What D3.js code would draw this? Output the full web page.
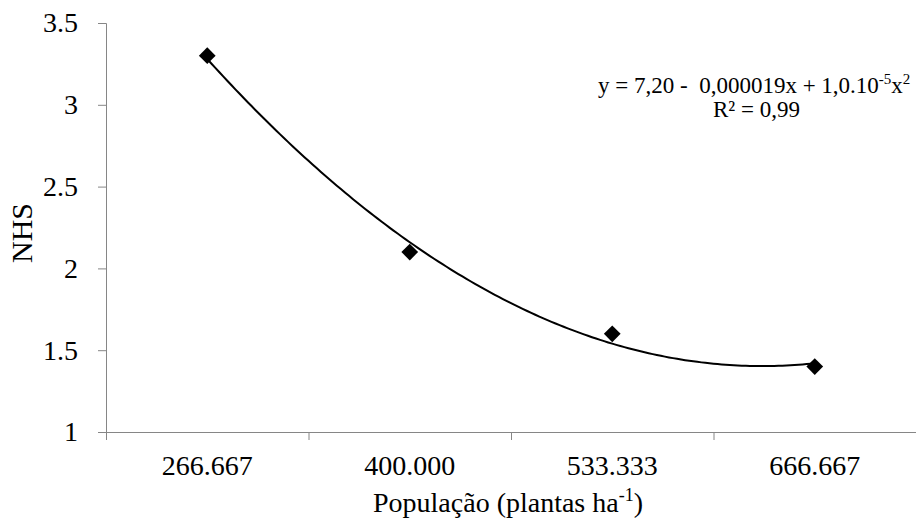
<meta charset="utf-8" />
<script src="https://d3js.org/d3.v7.min.js"></script>
<style>
  body { margin: 0; background: #fff; }
</style>
<div id="chart"></div>
<script>
  const categories = ['266.667', '400.000', '533.333', '666.667'];
  const nhs = [3.3, 2.1, 1.6, 1.4];
  const yTicks = [1, 1.5, 2, 2.5, 3, 3.5];

  const width = 916, height = 520;
  const margin = { top: 23, right: 0, bottom: 88, left: 106 };
  const serif = 'Liberation Serif';

  const svg = d3.select('#chart').append('svg')
    .attr('width', width).attr('height', height);

  const x = d3.scalePoint().domain(categories)
    .range([margin.left, width - margin.right]).padding(0.5);
  const xEdge = d3.scaleLinear().domain([0, categories.length])
    .range([margin.left, width - margin.right]);
  const y = d3.scaleLinear().domain([1, 3.5])
    .range([height - margin.bottom, margin.top]);

  // y axis
  const yAxis = svg.append('g')
    .attr('transform', `translate(${margin.left},0)`)
    .call(d3.axisLeft(y).tickValues(yTicks).tickFormat(d => d).tickSize(8).tickPadding(20));
  yAxis.selectAll('path, line').attr('stroke', '#868686');
  yAxis.selectAll('text').attr('fill', '#000').attr('font-size', 28);

  // x axis, ticks between categories
  const xAxis = svg.append('g')
    .attr('transform', `translate(0,${y(1)})`)
    .call(d3.axisBottom(xEdge).tickValues(d3.range(categories.length + 1)).tickFormat('').tickSize(8).tickSizeOuter(0));
  xAxis.selectAll('path, line').attr('stroke', '#868686');

  svg.append('g').selectAll('text').data(categories).join('text')
    .attr('x', d => x(d)).attr('y', 475)
    .attr('text-anchor', 'middle').attr('font-size', 28)
    .text(d => d);

  // axis titles
  svg.append('text')
    .attr('transform', `translate(32,233) rotate(-90)`)
    .attr('text-anchor', 'middle').attr('font-size', 30).text('NHS');

  const xt = svg.append('text')
    .attr('x', 373).attr('y', 512)
    .attr('font-size', 28);
  xt.append('tspan').text('População (plantas ha');
  xt.append('tspan').attr('dy', -11).attr('font-size', 18).text('-1');
  xt.append('tspan').attr('dy', 11).text(')');

  // quadratic trendline, least squares on category index
  const xs = nhs.map((d, i) => i + 1);
  function quadFit(xv, yv) {
    const S = k => d3.sum(xv, v => Math.pow(v, k));
    const T = k => d3.sum(xv, (v, i) => Math.pow(v, k) * yv[i]);
    const A = [[S(0), S(1), S(2)], [S(1), S(2), S(3)], [S(2), S(3), S(4)]];
    const b = [T(0), T(1), T(2)];
    for (let i = 0; i < 3; i++) {
      for (let j = i + 1; j < 3; j++) {
        const f = A[j][i] / A[i][i];
        for (let k = i; k < 3; k++) A[j][k] -= f * A[i][k];
        b[j] -= f * b[i];
      }
    }
    const c = [0, 0, 0];
    for (let i = 2; i >= 0; i--) {
      let s = b[i];
      for (let k = i + 1; k < 3; k++) s -= A[i][k] * c[k];
      c[i] = s / A[i][i];
    }
    return c;
  }
  const coef = quadFit(xs, nhs);
  const xIdx = d3.scaleLinear().domain([1, categories.length])
    .range([x(categories[0]), x(categories[categories.length - 1])]);
  const curve = d3.range(1, categories.length + 0.001, 0.02)
    .map(t => [xIdx(t), y(coef[0] + coef[1] * t + coef[2] * t * t)]);
  svg.append('path').datum(curve)
    .attr('d', d3.line())
    .attr('fill', 'none').attr('stroke', '#000').attr('stroke-width', 2);

  // markers
  svg.append('g').selectAll('path').data(nhs).join('path')
    .attr('d', d3.symbol(d3.symbolSquare, 140))
    .attr('transform', (d, i) => `translate(${x(categories[i])},${y(d)}) rotate(45)`)
    .attr('fill', '#000');

  // equation
  const eq = svg.append('text')
    .attr('x', 598).attr('y', 93)
    .attr('font-size', 23);
  eq.append('tspan').text('y = 7,20 -  0,000019x + 1,0.10').attr('xml:space', 'preserve');
  eq.append('tspan').attr('dy', -9).attr('font-size', 15).text('-5');
  eq.append('tspan').attr('dy', 9).text('x');
  eq.append('tspan').attr('dy', -9).attr('font-size', 15).text('2');
  svg.append('text')
    .attr('x', 713).attr('y', 117)
    .attr('font-size', 23).text('R² = 0,99');

  svg.selectAll('text, tspan').attr('font-family', serif);
  svg.selectAll('g').attr('font-family', serif);
</script>
